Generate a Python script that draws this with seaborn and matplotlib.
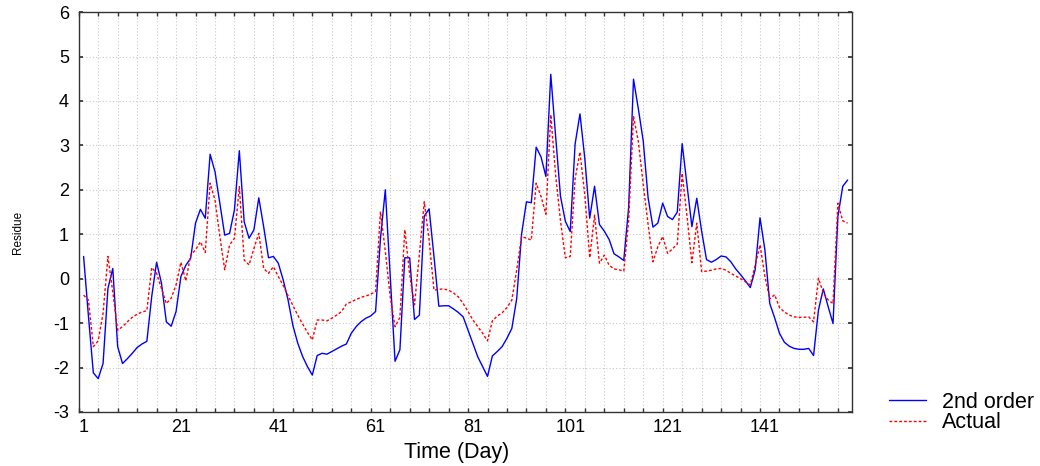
import numpy as np
import pandas as pd
import matplotlib
matplotlib.use("Agg")
import matplotlib.pyplot as plt
import seaborn as sns
from matplotlib.ticker import MultipleLocator, FixedLocator

days = list(range(1, 159))

second_order = [
    0.50, -0.85, -2.12, -2.25, -1.91, -0.22, 0.23, -1.53, -1.91, -1.80,
    -1.68, -1.55, -1.47, -1.41, -0.40, 0.37, -0.10, -0.97, -1.07, -0.74,
    0.05, 0.30, 0.46, 1.25, 1.56, 1.36, 2.80, 2.41, 1.70, 0.98,
    1.02, 1.55, 2.88, 1.28, 0.91, 1.10, 1.82, 1.17, 0.47, 0.50,
    0.35, -0.02, -0.47, -1.05, -1.45, -1.75, -1.98, -2.17, -1.73, -1.68,
    -1.70, -1.64, -1.58, -1.52, -1.47, -1.23, -1.08, -0.97, -0.89, -0.84,
    -0.74, 0.90, 2.00, 0.05, -1.86, -1.60, 0.47, 0.47, -0.92, -0.82,
    1.41, 1.57, 0.50, -0.62, -0.61, -0.61, -0.68, -0.76, -0.86, -1.16,
    -1.46, -1.76, -1.98, -2.20, -1.74, -1.64, -1.53, -1.34, -1.12, -0.45,
    1.00, 1.73, 1.71, 2.96, 2.74, 2.30, 4.60, 3.20, 1.85, 1.29,
    1.06, 3.03, 3.71, 2.70, 1.36, 2.08, 1.22, 1.07, 0.88, 0.56,
    0.49, 0.41, 1.60, 4.49, 3.82, 3.10, 1.82, 1.16, 1.25, 1.70,
    1.40, 1.33, 1.50, 3.04, 2.10, 1.17, 1.81, 1.07, 0.43, 0.37,
    0.43, 0.51, 0.49, 0.38, 0.22, 0.09, -0.05, -0.20, 0.20, 1.37,
    0.65, -0.56, -0.88, -1.23, -1.43, -1.52, -1.57, -1.59, -1.59, -1.57,
    -1.73, -0.71, -0.23, -0.63, -1.01, 1.40, 2.08, 2.22,
]

actual = [
    -0.37, -0.48, -1.53, -1.40, -0.78, 0.50, -0.30, -1.16, -1.08, -0.97,
    -0.87, -0.80, -0.75, -0.72, 0.25, 0.12, -0.22, -0.56, -0.44, -0.14,
    0.37, -0.05, 0.53, 0.65, 0.83, 0.59, 2.15, 1.77, 0.95, 0.20,
    0.76, 0.91, 2.07, 0.42, 0.31, 0.68, 1.02, 0.23, 0.12, 0.27,
    0.05, -0.15, -0.38, -0.60, -0.82, -1.02, -1.21, -1.38, -0.93, -0.93,
    -0.95, -0.89, -0.82, -0.74, -0.57, -0.52, -0.47, -0.42, -0.39, -0.35,
    -0.29, 1.51, 0.62, -0.40, -1.08, -0.87, 1.10, 0.10, -0.59, 0.55,
    1.73, 0.87, -0.26, -0.24, -0.23, -0.26, -0.32, -0.41, -0.56, -0.74,
    -0.93, -1.08, -1.23, -1.40, -0.95, -0.84, -0.77, -0.65, -0.48, 0.20,
    0.95, 0.91, 0.87, 2.15, 1.85, 1.45, 3.69, 2.33, 1.30, 0.47,
    0.50, 2.25, 2.85, 1.88, 0.47, 1.43, 0.35, 0.53, 0.30, 0.22,
    0.20, 0.17, 1.30, 3.66, 3.08, 2.12, 1.22, 0.38, 0.72, 0.95,
    0.57, 0.67, 0.78, 2.37, 1.40, 0.36, 1.25, 0.16, 0.17, 0.19,
    0.22, 0.23, 0.19, 0.12, 0.06, 0.00, -0.07, -0.14, 0.30, 0.76,
    0.05, -0.46, -0.36, -0.65, -0.75, -0.82, -0.86, -0.87, -0.87, -0.86,
    -0.97, 0.01, -0.32, -0.48, -0.56, 1.70, 1.30, 1.25,
]

x_tick_labels = ["1", "21", "41", "61", "81", "101", "121", "141"]
x_tick_positions = [1, 21, 41, 61, 81, 101, 121, 141]
y_ticks = list(range(-3, 7))

sns.set_theme(style="white")
plt.rcParams["font.family"] = ["Liberation Sans", "DejaVu Sans"]
plt.rcParams["text.color"] = "black"
plt.rcParams["axes.labelcolor"] = "black"
plt.rcParams["xtick.color"] = "black"
plt.rcParams["ytick.color"] = "black"

df = pd.DataFrame({"day": days, "2nd order": second_order, "Actual": actual})

fig = plt.figure(figsize=(10.4, 4.66), dpi=100)
ax = fig.add_axes([0.0757, 0.116, 0.744, 0.858])

sns.lineplot(data=df, x="day", y="2nd order", ax=ax, color="#0000ff",
             linewidth=1.0, label="2nd order")
sns.lineplot(data=df, x="day", y="Actual", ax=ax, color="#ff0000",
             linewidth=1.0, linestyle=(0, (2, 1.5)), label="Actual")

ax.set_xlim(0, 159)
ax.set_ylim(-3, 6)

ax.xaxis.set_major_locator(FixedLocator(x_tick_positions))
ax.set_xticklabels(x_tick_labels)
ax.xaxis.set_minor_locator(MultipleLocator(4))
ax.set_yticks(y_ticks)
ax.set_yticklabels([str(v) for v in y_ticks])

ax.grid(False)
ax.grid(which="minor", axis="x", color="#c8c8c8", linestyle=(0, (1, 2)), linewidth=0.8)
ax.grid(which="major", axis="y", color="#c8c8c8", linestyle=(0, (1, 2)), linewidth=0.8)

ax.tick_params(axis="x", which="major", length=0, labelsize=13, pad=5, labelcolor="black")
ax.tick_params(axis="x", which="minor", direction="in", length=3, top=True, bottom=True, color="#333333")
ax.tick_params(axis="y", which="major", direction="in", length=3, left=True, right=True,
               labelsize=13, pad=7, labelcolor="black", color="#333333")

for s in ax.spines.values():
    s.set_color("#333333")
    s.set_linewidth(1.0)

ax.set_xlabel("Time (Day)", fontsize=15.5, labelpad=6, color="black")
ax.xaxis.set_label_coords(0.4886, -0.075)
ax.set_ylabel("")
fig.text(18 / 1040, 1 - 232 / 466, "Residue", rotation=90, fontsize=8.5,
         ha="center", va="center", color="black")

ax.legend_.remove()
handles, labels = ax.get_legend_handles_labels()
leg = fig.legend(handles, labels, loc="center left",
                 bbox_to_anchor=(889 / 1040, 1 - 412.5 / 466),
                 frameon=False, fontsize=15.5, handlelength=1.7, handletextpad=0.75,
                 labelspacing=0.0, borderpad=0.0, borderaxespad=0.0)
for t in leg.get_texts():
    t.set_color("black")

fig.savefig("out.png", dpi=100)
